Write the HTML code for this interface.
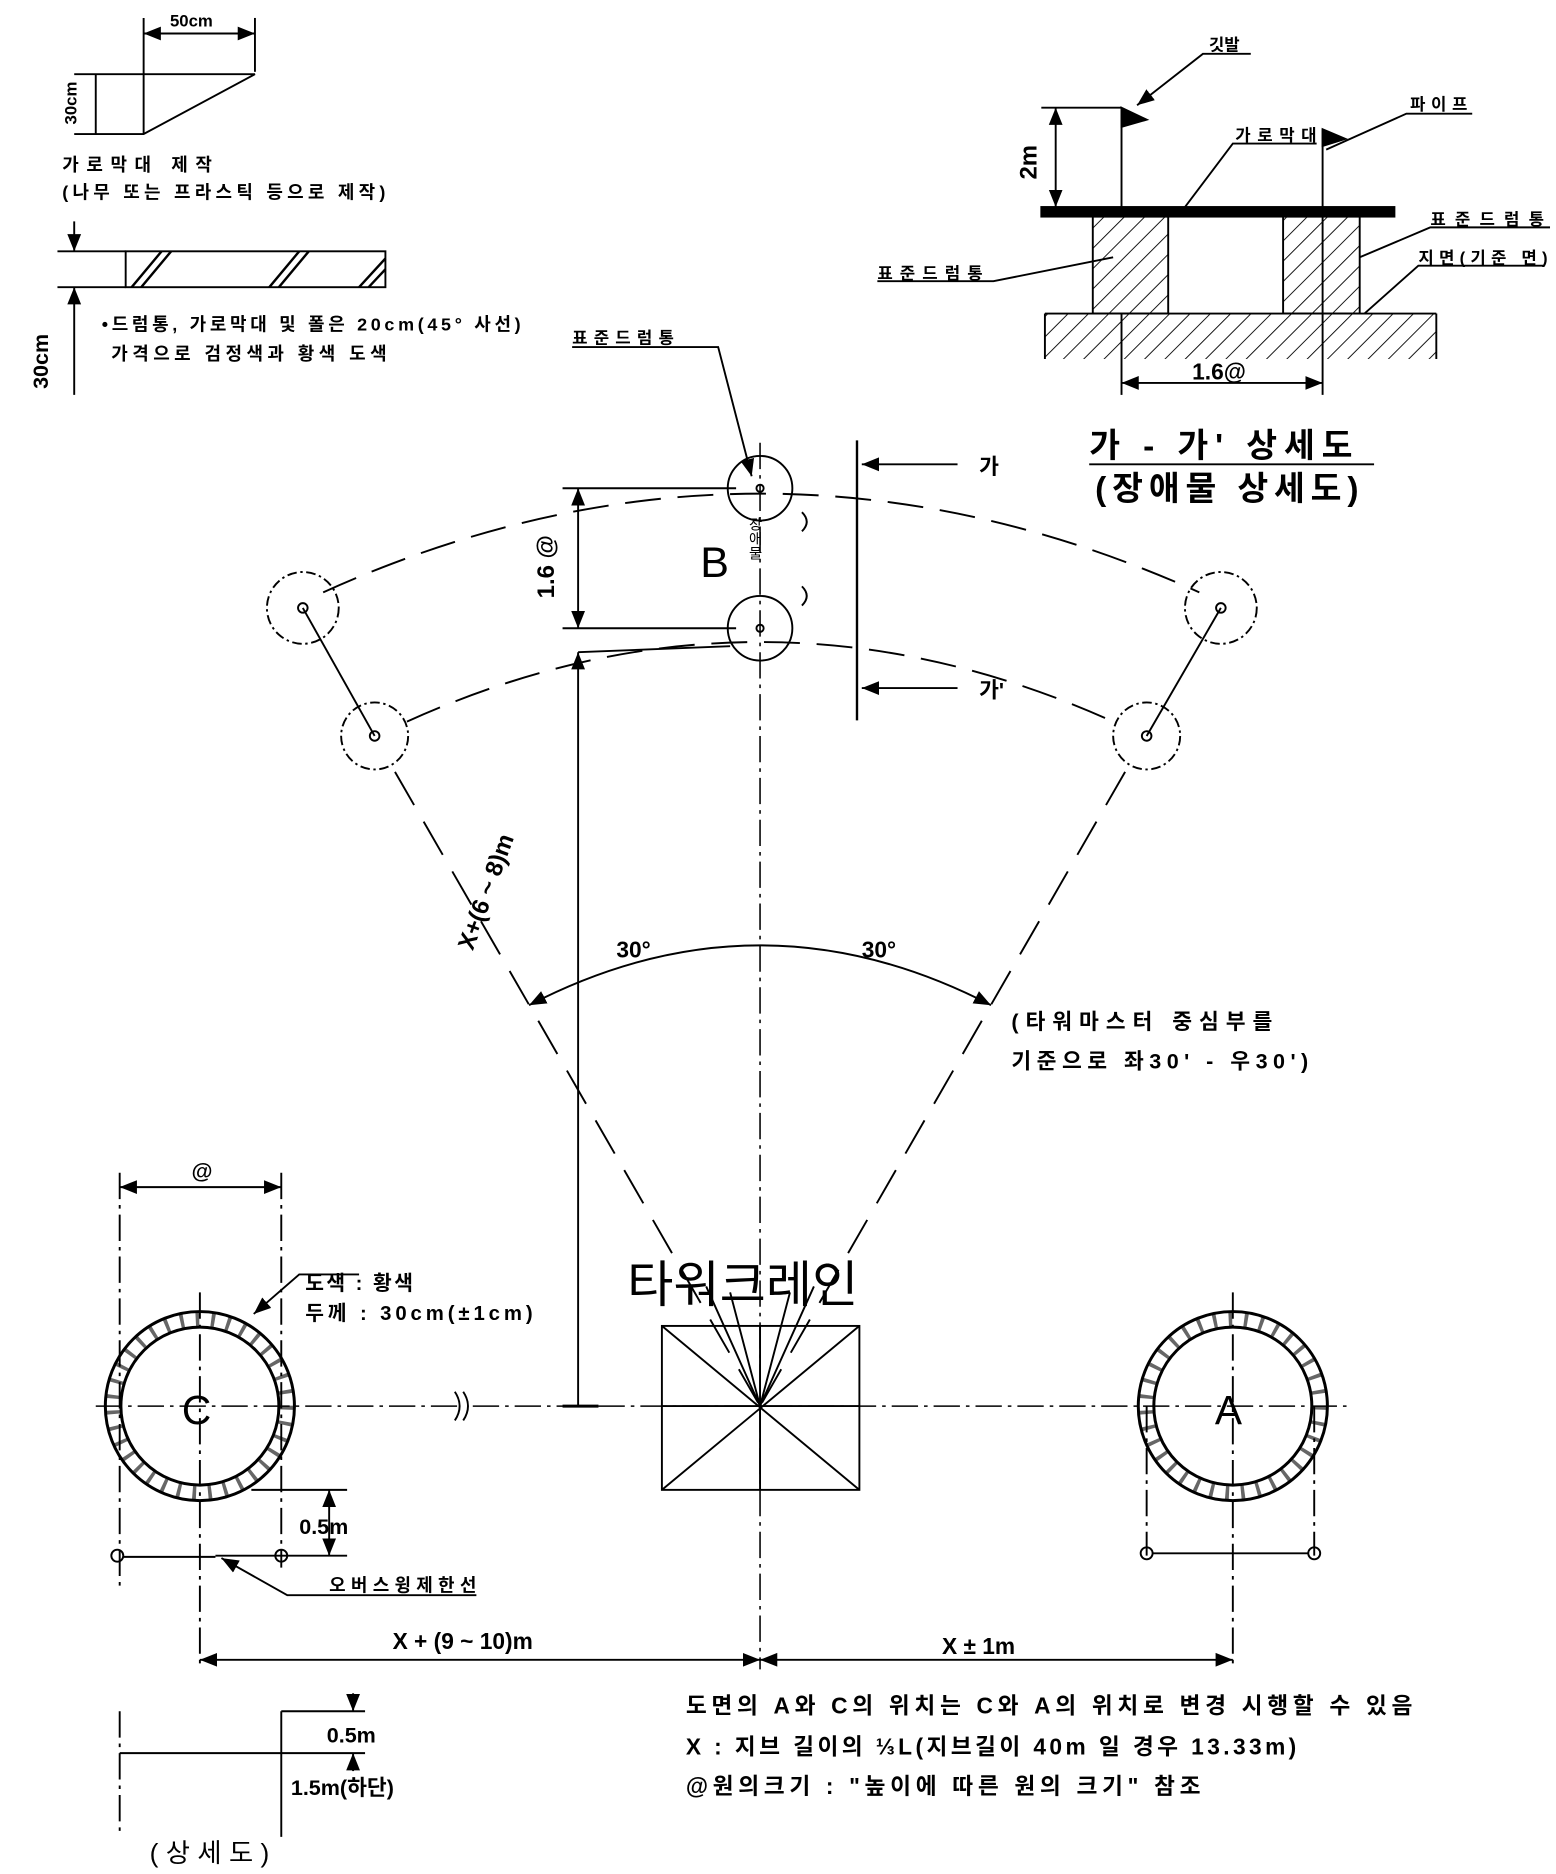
<!DOCTYPE html>
<html><head><meta charset="utf-8"><style>
html,body{margin:0;padding:0;background:#fff;}
svg{display:block;}
text{font-family:"Liberation Sans","Noto Sans CJK KR",sans-serif;fill:#000;}
.b{font-weight:bold;}
</style></head><body>
<svg width="1556" height="1874" viewBox="0 0 1300 1566" preserveAspectRatio="none" xmlns="http://www.w3.org/2000/svg">
<defs>
<marker id="ar" viewBox="0 0 10 10" refX="10" refY="5" markerWidth="9" markerHeight="9" orient="auto-start-reverse"><path d="M0,1 L10,5 L0,9 z" fill="#000"/></marker>
<pattern id="h" width="12" height="12" patternUnits="userSpaceOnUse" patternTransform="rotate(45)"><line x1="0" y1="0" x2="0" y2="12" stroke="#000" stroke-width="1.5"/></pattern>
</defs>
<g stroke="#000" fill="none" stroke-width="1.6">
<line x1="120" y1="15" x2="120" y2="112"/><line x1="213" y1="15" x2="213" y2="60"/>
<line x1="120" y1="28" x2="213" y2="28" marker-start="url(#ar)" marker-end="url(#ar)"/>
<polyline points="62,62 213,62 120,112 62,112"/><line x1="80" y1="62" x2="80" y2="112"/>
<rect x="105" y="210" width="217" height="30"/>
<path d="M110,240 L135,210 M118,240 L143,210 M225,240 L250,210 M233,240 L258,210 M300,240 L322,216 M308,240 L322,225" stroke-width="2"/>
<line x1="48" y1="210" x2="105" y2="210"/><line x1="48" y1="240" x2="105" y2="240"/>
<line x1="62" y1="185" x2="62" y2="210" marker-end="url(#ar)"/><line x1="62" y1="330" x2="62" y2="240" marker-end="url(#ar)"/>
<rect x="870" y="173" width="295" height="8" fill="#000"/>
<rect x="913" y="181" width="63" height="81" fill="url(#h)"/><rect x="1072" y="181" width="64" height="81" fill="url(#h)"/>
<rect x="873" y="262" width="327" height="38" fill="url(#h)" stroke="none"/>
<line x1="873" y1="262" x2="1200" y2="262"/><line x1="873" y1="262" x2="873" y2="300"/><line x1="1200" y1="262" x2="1200" y2="300"/>
<line x1="937" y1="90" x2="937" y2="173"/><path d="M937,90 L958,100 L937,106z" fill="#000"/>
<line x1="1105" y1="108" x2="1105" y2="330"/><path d="M1105,108 L1124,116 L1105,122z" fill="#000"/>
<line x1="937" y1="262" x2="937" y2="330"/>
<line x1="870" y1="90" x2="937" y2="90"/>
<line x1="882" y1="90" x2="882" y2="173" marker-start="url(#ar)" marker-end="url(#ar)"/>
<line x1="937" y1="320" x2="1105" y2="320" marker-start="url(#ar)" marker-end="url(#ar)"/>
<polyline points="1045,45 1005,45 950,88" marker-end="url(#ar)"/>
<polyline points="1230,95 1175,95 1108,125"/>
<polyline points="1100,120 1030,120 990,173"/>
<polyline points="1295,190 1195,190 1136,215"/>
<polyline points="1290,222 1185,222 1140,262"/>
<polyline points="733,235 830,235 930,215"/>
<line x1="910" y1="388" x2="1148" y2="388"/>
<line x1="635" y1="370" x2="635" y2="1395" stroke-dasharray="22,5,3,5" stroke-width="1.3"/>
<line x1="80" y1="1175" x2="1130" y2="1175" stroke-dasharray="22,5,3,5" stroke-width="1.3"/>
<path d="M382,1165 q6,10 0,20 M388,1165 q6,10 0,20" stroke="#fff" stroke-width="6"/>
<path d="M380,1163 q8,12 0,24 M387,1163 q8,12 0,24"/>
<rect x="553" y="1108" width="165" height="137"/>
<path d="M553,1108 L718,1245 M718,1108 L553,1245 M635,1108 L635,1245 M553,1175 L718,1175 M590,1075 L635,1175 L610,1080 M680,1075 L635,1175 L660,1080"/>
<circle cx="635" cy="408" r="27"/><circle cx="635" cy="408" r="3"/>
<circle cx="635" cy="525" r="27"/><circle cx="635" cy="525" r="3"/>
<path d="M670,428 q8,8 0,16 M670,490 q8,8 0,16"/>
<circle cx="253" cy="508" r="30" stroke-dasharray="8,3,2,3"/><circle cx="253" cy="508" r="4"/>
<circle cx="313" cy="615" r="28" stroke-dasharray="8,3,2,3"/><circle cx="313" cy="615" r="4"/>
<circle cx="1020" cy="508" r="30" stroke-dasharray="8,3,2,3"/><circle cx="1020" cy="508" r="4"/>
<circle cx="958" cy="615" r="28" stroke-dasharray="8,3,2,3"/><circle cx="958" cy="615" r="4"/>
<line x1="253" y1="508" x2="313" y2="615"/><line x1="1020" y1="508" x2="958" y2="615"/>
<path d="M270,495 Q635,330 1002,495" stroke-dasharray="30,14"/>
<path d="M340,603 Q635,470 930,603" stroke-dasharray="30,14"/>
<line x1="330" y1="645" x2="635" y2="1175" stroke-dasharray="32,16"/>
<line x1="940" y1="645" x2="635" y2="1175" stroke-dasharray="32,16"/>
<path d="M442,840 Q635,740 828,840" marker-start="url(#ar)" marker-end="url(#ar)"/>
<line x1="470" y1="408" x2="615" y2="408"/><line x1="470" y1="525" x2="615" y2="525"/>
<line x1="483" y1="408" x2="483" y2="525" marker-start="url(#ar)" marker-end="url(#ar)"/>
<line x1="483" y1="545" x2="483" y2="1175" marker-start="url(#ar)"/>
<line x1="483" y1="545" x2="610" y2="540"/><line x1="470" y1="1175" x2="500" y2="1175" stroke-width="2.5"/>
<line x1="716" y1="368" x2="716" y2="602" stroke-width="2"/>
<line x1="800" y1="388" x2="720" y2="388" marker-end="url(#ar)"/>
<line x1="800" y1="575" x2="720" y2="575" marker-end="url(#ar)"/>
<polyline points="478,290 600,290 628,398" marker-end="url(#ar)"/>
<circle cx="167" cy="1175" r="79" stroke-width="2.5"/><circle cx="167" cy="1175" r="66" stroke-width="2.5"/>
<circle cx="167" cy="1175" r="72.5" stroke-width="11" stroke-dasharray="3,10" opacity="0.6"/>
<circle cx="1030" cy="1175" r="79" stroke-width="2.5"/><circle cx="1030" cy="1175" r="66" stroke-width="2.5"/>
<circle cx="1030" cy="1175" r="72.5" stroke-width="11" stroke-dasharray="3,10" opacity="0.6"/>
<line x1="100" y1="980" x2="100" y2="1330" stroke-dasharray="22,5,3,5"/>
<line x1="235" y1="980" x2="235" y2="1310" stroke-dasharray="22,5,3,5"/>
<line x1="100" y1="992" x2="235" y2="992" marker-start="url(#ar)" marker-end="url(#ar)"/>
<line x1="167" y1="1080" x2="167" y2="1395" stroke-dasharray="22,5,3,5"/>
<polyline points="300,1065 250,1065 212,1098" marker-end="url(#ar)"/>
<line x1="210" y1="1245" x2="290" y2="1245"/><line x1="180" y1="1300" x2="290" y2="1300"/>
<line x1="275" y1="1245" x2="275" y2="1300" marker-start="url(#ar)" marker-end="url(#ar)"/>
<circle cx="98" cy="1300" r="5"/><circle cx="235" cy="1300" r="5"/><line x1="103" y1="1301" x2="180" y2="1301"/>
<polyline points="398,1333 240,1333 185,1302" marker-end="url(#ar)"/>
<line x1="958" y1="1175" x2="958" y2="1300" stroke-dasharray="22,5,3,5"/><line x1="1098" y1="1175" x2="1098" y2="1300" stroke-dasharray="22,5,3,5"/>
<circle cx="958" cy="1298" r="5"/><circle cx="1098" cy="1298" r="5"/><line x1="963" y1="1298" x2="1093" y2="1298"/>
<line x1="1030" y1="1080" x2="1030" y2="1395" stroke-dasharray="22,5,3,5"/>
<line x1="167" y1="1387" x2="635" y2="1387" marker-start="url(#ar)" marker-end="url(#ar)"/>
<line x1="635" y1="1387" x2="1030" y2="1387" marker-start="url(#ar)" marker-end="url(#ar)"/>
<line x1="100" y1="1430" x2="100" y2="1530" stroke-dasharray="22,5,3,5"/>
<line x1="235" y1="1430" x2="235" y2="1535"/>
<line x1="100" y1="1465" x2="235" y2="1465"/>
<line x1="235" y1="1430" x2="305" y2="1430"/><line x1="235" y1="1465" x2="305" y2="1465"/>
<line x1="295" y1="1415" x2="295" y2="1430" marker-end="url(#ar)"/><line x1="295" y1="1480" x2="295" y2="1465" marker-end="url(#ar)"/>
</g>
<g class="b">
<text x="142" y="22" font-size="14">50cm</text>
<text transform="translate(64,104) rotate(-90)" font-size="14">30cm</text>
<text x="52" y="143" font-size="15" textLength="125">가로막대 제작</text>
<text x="52" y="166" font-size="15" textLength="270">(나무 또는 프라스틱 등으로 제작)</text>
<text transform="translate(40,325) rotate(-90)" font-size="18">30cm</text>
<text x="85" y="276" font-size="15" textLength="350">•드럼통, 가로막대 및 폴은 20cm(45° 사선)</text>
<text x="93" y="301" font-size="15" textLength="230">가격으로 검정색과 황색 도색</text>
<text x="1010" y="42" font-size="14">깃발</text>
<text x="1178" y="92" font-size="14" textLength="48">파이프</text>
<text x="1032" y="118" font-size="14" textLength="68">가로막대</text>
<text x="1195" y="188" font-size="14" textLength="95">표준드럼통</text>
<text x="1185" y="220" font-size="14" textLength="108">지면(기준 면)</text>
<text x="733" y="233" font-size="14" textLength="88">표준드럼통</text>
<text transform="translate(866,150) rotate(-90)" font-size="20">2m</text>
<text x="996" y="317" font-size="19">1.6@</text>
<text x="478" y="287" font-size="14" textLength="85">표준드럼통</text>
<text x="818" y="396" font-size="18">가</text>
<text x="818" y="583" font-size="18">가'</text>
<text transform="translate(463,500) rotate(-90)" font-size="20">1.6 @</text>
<text transform="translate(395,795) rotate(-70)" font-size="20">X+(6 ~ 8)m</text>
<text x="515" y="800" font-size="19">30°</text>
<text x="720" y="800" font-size="19">30°</text>
<text x="845" y="860" font-size="18" textLength="218">(타워마스터 중심부를</text>
<text x="845" y="893" font-size="18" textLength="248">기준으로 좌30'  - 우30')</text>
<text x="160" y="985" font-size="18">@</text>
<text x="255" y="1078" font-size="17" textLength="90">도색 : 황색</text>
<text x="255" y="1103" font-size="17" textLength="190">두께 : 30cm(±1cm)</text>
<text x="250" y="1282" font-size="18">0.5m</text>
<text x="275" y="1330" font-size="15" textLength="123">오버스윙제한선</text>
<text x="328" y="1378" font-size="19">X + (9 ~ 10)m</text>
<text x="787" y="1382" font-size="19">X  ± 1m</text>
<text x="573" y="1432" font-size="19" textLength="607">도면의 A와 C의 위치는 C와 A의 위치로 변경 시행할 수 있음</text>
<text x="573" y="1466" font-size="19" textLength="510">X : 지브 길이의 ⅓L(지브길이 40m 일 경우 13.33m)</text>
<text x="573" y="1499" font-size="19" textLength="430">@원의크기 : "높이에 따른 원의 크기" 참조</text>
<text x="273" y="1456" font-size="18">0.5m</text>
<text x="243" y="1500" font-size="18">1.5m(하단)</text>
</g>
<text x="1020" y="382" font-size="28" text-anchor="middle" textLength="220" class="b">가 - 가' 상세도</text>
<text x="1025" y="418" font-size="28" text-anchor="middle" textLength="220" class="b">(장애물 상세도)</text>
<text x="585" y="482" font-size="36">B</text>
<text x="630" y="432" font-size="12" writing-mode="tb">장애물</text>
<text x="524" y="1088" font-size="42">타워크레인</text>
<text x="152" y="1190" font-size="34">C</text>
<text x="1015" y="1190" font-size="34">A</text>
<text x="125" y="1556" font-size="22" textLength="100">(상세도)</text>
</svg>
</body></html>
